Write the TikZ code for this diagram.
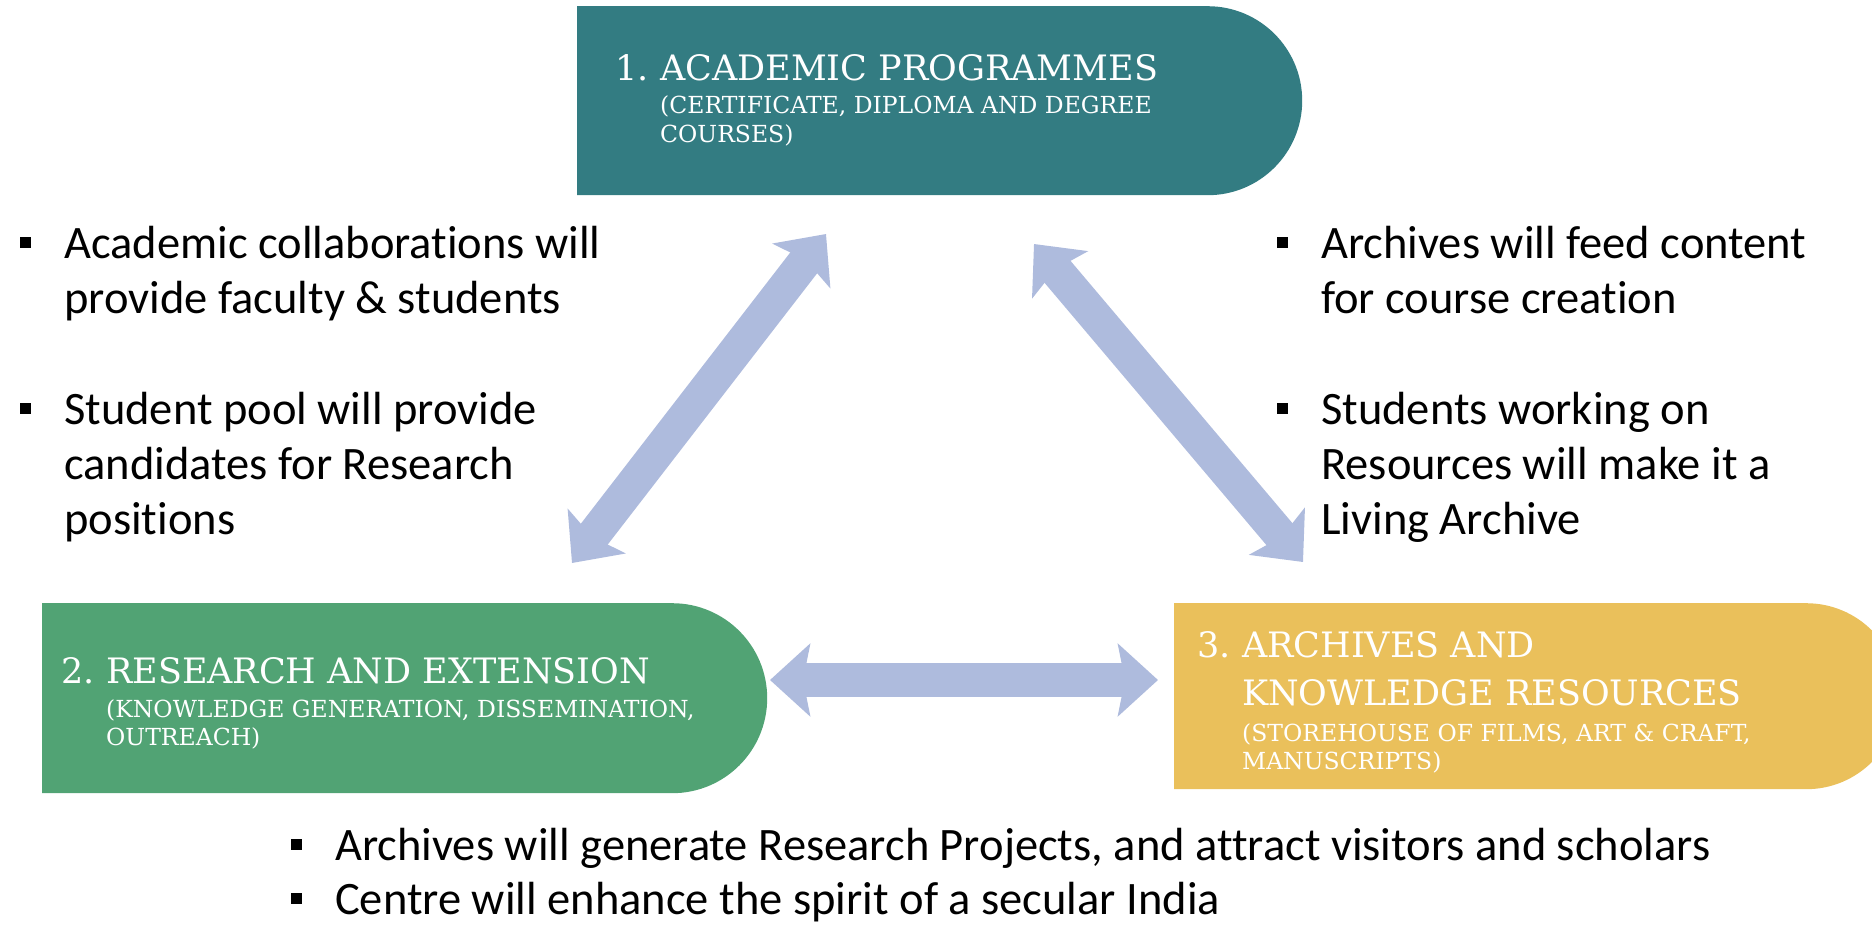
\documentclass[tikz,border=0pt]{standalone}
\usepackage{fontspec}
\setmainfont{Carlito}[Ligatures=NoCommon]
\newfontfamily\slab{DejaVu Serif}
\usetikzlibrary{arrows.meta,shapes.misc}
\definecolor{tealbox}{HTML}{337C82}
\definecolor{greenbox}{HTML}{51A374}
\definecolor{goldbox}{HTML}{EAC05B}
\definecolor{arrowc}{HTML}{AEBBDD}
\newcommand\sqb{\llap{\rule[10pt]{11pt}{11pt}\hspace{33pt}}}
\begin{document}
\begin{tikzpicture}[x=1pt,y=-1pt,
  boxshape/.style={rounded rectangle, rounded rectangle left arc=none, draw=none,
    inner sep=0pt, minimum width=725pt, anchor=north west},
  boxtitle/.style={font=\slab\fontsize{35}{46}\selectfont, text=white, inner sep=0pt,
    anchor=base west, align=left},
  boxsub/.style={font=\slab\fontsize{23.5}{28}\selectfont, text=white, inner sep=0pt,
    anchor=base west, align=left},
  bul/.style={font=\fontsize{46.5}{55}\selectfont, text=black, inner sep=0pt,
    anchor=base west, align=left},
  fat/.style={draw=arrowc, line width=34pt,
    {Stealth[length=40pt,width=72pt,inset=7pt]}-{Stealth[length=40pt,width=72pt,inset=7pt]}}]
\useasboundingbox (0,0) rectangle (1872,924);
\clip (0,0) rectangle (1872,924);

% boxes
\node[boxshape, fill=tealbox, minimum height=189pt] (acad) at (577,6) {};
\node[boxshape, fill=greenbox, minimum height=190pt] (res) at (42,603) {};
\node[boxshape, fill=goldbox, minimum height=186pt] (arch) at (1174,603) {};

% box texts
\node[boxtitle] (acadt) at (660,80) {\llap{1.\ }ACADEMIC PROGRAMMES};
\node[boxsub] (acads1) at (660,113) {(CERTIFICATE, DIPLOMA AND DEGREE};
\node[boxsub] (acads2) at (660,142) {COURSES)};

\node[boxtitle] (rest) at (106,683) {\llap{2.\ }RESEARCH AND EXTENSION};
\node[boxsub] (ress1) at (106,717) {(KNOWLEDGE GENERATION, DISSEMINATION,};
\node[boxsub] (ress2) at (106,745) {OUTREACH)};

\node[boxtitle] (archt1) at (1242,657) {\llap{3.\ }ARCHIVES AND};
\node[boxtitle] (archt2) at (1242,705) {KNOWLEDGE RESOURCES};
\node[boxsub] (archs1) at (1242,741) {(STOREHOUSE OF FILMS, ART \& CRAFT,};
\node[boxsub] (archs2) at (1242,769) {MANUSCRIPTS)};

% arrows
\coordinate (L1) at (572,563);
\coordinate (L2) at (826,234);
\coordinate (R1) at (1034,244);
\coordinate (R2) at (1303,562);
\coordinate (H1) at (770,680);
\coordinate (H2) at (1158,680);
\draw[fat] (L1) -- (L2);
\draw[fat] (R1) -- (R2);
\draw[fat] (H1) -- (H2);

% bullet texts
\node[bul] (t1a) at (64,258) {\sqb Academic collaborations will};
\node[bul] (t1b) at (64,313) {provide faculty \& students};
\node[bul] (t2a) at (64,424) {\sqb Student pool will provide};
\node[bul] (t2b) at (64,479) {candidates for Research};
\node[bul] (t2c) at (64,534) {positions};

\node[bul] (t3a) at (1321,258) {\sqb Archives will feed content};
\node[bul] (t3b) at (1321,313) {for course creation};
\node[bul] (t4a) at (1321,424) {\sqb Students working on};
\node[bul] (t4b) at (1321,479) {Resources will make it a};
\node[bul] (t4c) at (1321,534) {Living Archive};

\node[bul] (b1) at (335,860) {\sqb Archives will generate Research Projects, and attract visitors and scholars};
\node[bul] (b2) at (335,914) {\sqb Centre will enhance the spirit of a secular India};
\end{tikzpicture}
\end{document}
